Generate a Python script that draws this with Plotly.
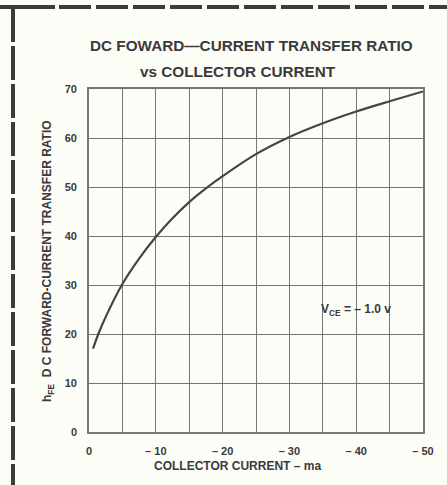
import plotly.graph_objects as go

# Collector current (ma) and DC forward-current transfer ratio hFE
collector_current = [-0.6, -1.4, -2.5, -5, -7.5, -10, -12.5, -15, -17.5, -20, -25, -30, -35, -40, -45, -50]
hfe = [17, 20, 23.5, 30.2, 35.4, 39.8, 43.6, 46.9, 49.7, 52.2, 56.7, 60.2, 63.0, 65.4, 67.5, 69.5]

x_tickvals = [0, -10, -20, -30, -40, -50]
x_ticktext = ["0", "– 10", "– 20", "– 30", "– 40", "– 50"]
x_minor_grid = [-5, -15, -25, -35, -45]
y_tickvals = [0, 10, 20, 30, 40, 50, 60, 70]
y_ticktext = ["0", "10", "20", "30", "40", "50", "60", "70"]

W, H = 447, 485
L, R, T, B = 89, 24, 89, 53
PW, PH = W - L - R, H - T - B

INK = "#3a3a3a"
GRID = "#777777"
BG = "#fdfdf8"
FONT = "Liberation Sans, Arial, sans-serif"


def px(xp):
    return (xp - L) / PW


def py(yp):
    return (H - B - yp) / PH


fig = go.Figure()
fig.add_trace(go.Scatter(
    x=collector_current, y=hfe, mode="lines",
    line=dict(color="#454545", width=2.2, shape="spline", smoothing=1.0),
    hoverinfo="skip", showlegend=False,
))

axis_common = dict(
    showgrid=True, gridcolor=GRID, gridwidth=1.4,
    showline=True, linecolor=GRID, linewidth=1.6, mirror=True,
    zeroline=False, ticks="", fixedrange=True,
    tickfont=dict(family=FONT, size=11, color=INK, weight="bold"),
)

fig.update_xaxes(
    range=[0, -50], tickmode="array", tickvals=x_tickvals, ticktext=x_ticktext,
    minor=dict(tickmode="array", tickvals=x_minor_grid, showgrid=True,
               gridcolor=GRID, gridwidth=1.4, ticks=""),
    ticklabelstandoff=8, **axis_common,
)
fig.update_yaxes(
    range=[0, 70], tickmode="array", tickvals=y_tickvals, ticktext=y_ticktext,
    ticklabelstandoff=8, **axis_common,
)

ann = []
# Titles
ann.append(dict(text="DC FOWARD—CURRENT TRANSFER RATIO", x=px(251), y=py(46),
                font=dict(size=15.3, family=FONT, color=INK, weight="bold")))
ann.append(dict(text="vs COLLECTOR CURRENT", x=px(238), y=py(71),
                font=dict(size=15.3, family=FONT, color=INK, weight="bold")))
# Axis titles
ann.append(dict(text="COLLECTOR CURRENT – ma", x=px(237), y=py(466),
                font=dict(size=12, family=FONT, color=INK, weight="bold")))
ann.append(dict(text="h<sub>FE</sub>  D C FORWARD-CURRENT TRANSFER RATIO", x=px(48), y=py(261),
                textangle=-90,
                font=dict(size=12, family=FONT, color=INK, weight="bold")))
# Operating condition label
ann.append(dict(text="V<sub>CE</sub> = – 1.0 v", x=-40, y=25, xref="x", yref="y",
                font=dict(size=12, family=FONT, color=INK, weight="bold")))

for a in ann:
    a.setdefault("xref", "paper")
    a.setdefault("yref", "paper")
    a.update(showarrow=False, xanchor="center", yanchor="middle")
    fig.add_annotation(**a)

# Dashed page frame along the top and left edges
frame = dict(color="#3c3c3c", width=4)
fig.add_shape(type="line", xref="paper", yref="paper",
              x0=px(0), x1=px(55), y0=py(7), y1=py(7), line=frame)
fig.add_shape(type="line", xref="paper", yref="paper",
              x0=px(59), x1=px(447), y0=py(7), y1=py(7),
              line=dict(frame, dash="32px,5px"))
fig.add_shape(type="line", xref="paper", yref="paper",
              x0=px(13), x1=px(13), y0=py(5), y1=py(42), line=frame)
fig.add_shape(type="line", xref="paper", yref="paper",
              x0=px(13), x1=px(13), y0=py(46), y1=py(485),
              line=dict(frame, dash="34px,4px"))

fig.update_layout(
    width=W, height=H,
    margin=dict(l=L, r=R, t=T, b=B),
    paper_bgcolor=BG, plot_bgcolor=BG,
    showlegend=False,
)

fig.write_html("out.html")
